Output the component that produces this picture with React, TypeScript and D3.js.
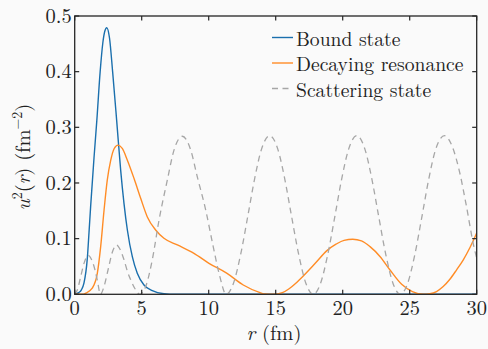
import React from "react";
import * as d3 from "d3";

type Pt = [number, number];

const boundState: Pt[] = [
  [0, 0], [0.3, 0.003], [0.5, 0.008], [0.69, 0.02], [0.94, 0.064], [1.07, 0.112],
  [1.19, 0.158], [1.44, 0.245], [1.65, 0.312], [1.9, 0.4], [2.1, 0.452], [2.25, 0.473],
  [2.39, 0.479], [2.6, 0.46], [2.83, 0.4], [3.13, 0.313], [3.43, 0.223], [3.68, 0.163],
  [3.93, 0.1155], [4.3, 0.0676], [4.67, 0.0377], [5.17, 0.0167], [5.79, 0.0065],
  [6.66, 0.001], [7.5, 0], [30, 0],
];

const decayingResonance: Pt[] = [
  [0, 0], [0.57, 0], [0.82, 0.002], [1.31, 0.011], [1.69, 0.038], [1.94, 0.086],
  [2.19, 0.151], [2.43, 0.205], [2.69, 0.241], [2.95, 0.262], [3.23, 0.268], [3.55, 0.262],
  [3.93, 0.241], [4.43, 0.208], [4.93, 0.172], [5.42, 0.139], [6.04, 0.1155], [6.66, 0.1006],
  [7.66, 0.0886], [8.9, 0.0737], [10.02, 0.0557], [11.34, 0.038], [12.58, 0.0167],
  [13.83, 0.003], [14.2, 0.0005], [14.8, 0], [15.5, 0.003], [16.0, 0.01], [16.5, 0.02],
  [17.06, 0.033], [18.0, 0.057], [18.8, 0.078], [19.5, 0.09], [20.1, 0.097], [20.75, 0.0988],
  [21.4, 0.096], [22.04, 0.0856], [22.78, 0.068], [23.53, 0.0437], [24.4, 0.018],
  [25.2, 0.005], [26.0, 0], [26.5, 0.001], [27.0, 0.005], [27.5, 0.014], [28.0, 0.027],
  [28.5, 0.044], [29.0, 0.062], [29.5, 0.084], [30, 0.11],
];

const scatteringState: Pt[] = [
  [0, 0], [0.2, 0.008], [0.45, 0.032], [0.7, 0.056], [1.0, 0.07], [1.3, 0.06], [1.5, 0.045],
  [1.69, 0.025], [1.92, 0],
  [2.2, 0.015], [2.5, 0.045], [2.8, 0.075], [3.13, 0.0886], [3.4, 0.08], [3.68, 0.062],
  [3.95, 0.04], [4.18, 0.026], [4.5, 0.01], [4.85, 0],
  [5.3, 0.014], [5.79, 0.062], [6.29, 0.133], [6.91, 0.205], [7.41, 0.259], [8.03, 0.284],
  [8.66, 0.259], [9.15, 0.211], [9.78, 0.151], [10.3, 0.09], [10.8, 0.035], [11.3, 0],
  [11.85, 0.02], [12.38, 0.071], [12.93, 0.142], [13.43, 0.208], [13.92, 0.259], [14.55, 0.285],
  [15.18, 0.259], [15.67, 0.208], [16.17, 0.142], [16.72, 0.071], [17.25, 0.02], [17.8, 0],
  [18.35, 0.02], [18.88, 0.071], [19.43, 0.142], [19.93, 0.208], [20.42, 0.259], [21.05, 0.285],
  [21.68, 0.259], [22.17, 0.208], [22.67, 0.142], [23.22, 0.071], [23.75, 0.02], [24.3, 0],
  [24.85, 0.02], [25.38, 0.071], [25.93, 0.142], [26.43, 0.208], [26.92, 0.259], [27.6, 0.285],
  [28.23, 0.262], [28.72, 0.22], [29.22, 0.16], [29.77, 0.088], [30, 0.065],
];

const xTicks = [0, 5, 10, 15, 20, 25, 30];
const yTicks = [0, 0.1, 0.2, 0.3, 0.4, 0.5];
const seriesNames = ["Bound state", "Decaying resonance", "Scattering state"];
const seriesColors = ["#1a6fad", "#ff8c26", "#a6a6a6"];

export default function App() {
  const W = 488, H = 349;
  const left = 74.7, right = 476.7, top = 16, bottom = 294.3;
  const x = d3.scaleLinear().domain([0, 30]).range([left, right]);
  const y = d3.scaleLinear().domain([0, 0.5]).range([bottom, top]);
  const line = d3
    .line<Pt>()
    .x((d) => x(d[0]))
    .y((d) => y(d[1]))
    .curve(d3.curveMonotoneX);
  const tstyle: React.CSSProperties = { fontFamily: "Latin Modern Roman" };
  const axisColor = "#262626";
  const tickLen = 4.5;
  const series = [boundState, decayingResonance, scatteringState];
  const fs = 20.5;
  const legendFs = 19.6;

  return (
    <div style={{ position: "absolute", left: 0, top: 0 }}>
      <svg width={W} height={H} style={{ display: "block" }}>
        <rect x={0} y={0} width={W} height={H} fill="#fafafa" />
        <defs>
          <clipPath id="plotclip">
            <rect x={left} y={top} width={right - left} height={bottom - top} />
          </clipPath>
        </defs>
        <g clipPath="url(#plotclip)">
          {series.map((s, i) => (
            <path
              key={i}
              d={line(s) || ""}
              fill="none"
              stroke={seriesColors[i]}
              strokeWidth={i === 2 ? 1.3 : 1.4}
              strokeDasharray={i === 2 ? "6,4.5" : undefined}
            />
          ))}
        </g>
        <rect
          x={left}
          y={top}
          width={right - left}
          height={bottom - top}
          fill="none"
          stroke={axisColor}
          strokeWidth={1.3}
        />
        {xTicks.map((t) => (
          <g key={"x" + t}>
            <line x1={x(t)} x2={x(t)} y1={bottom} y2={bottom - tickLen} stroke={axisColor} strokeWidth={1.2} />
            <line x1={x(t)} x2={x(t)} y1={top} y2={top + tickLen} stroke={axisColor} strokeWidth={1.2} />
            <text x={x(t)} y={315} textAnchor="middle" fontSize={fs} fill="#222" style={tstyle}>
              {String(t)}
            </text>
          </g>
        ))}
        {yTicks.map((t) => (
          <g key={"y" + t}>
            <line x1={left} x2={left + tickLen} y1={y(t)} y2={y(t)} stroke={axisColor} strokeWidth={1.2} />
            <line x1={right} x2={right - tickLen} y1={y(t)} y2={y(t)} stroke={axisColor} strokeWidth={1.2} />
            <text x={left - 3} y={y(t) + 6.8} textAnchor="end" fontSize={fs} fill="#222" style={tstyle}>
              {t.toFixed(1)}
            </text>
          </g>
        ))}
        <text x={274} y={340} textAnchor="middle" fontSize={fs} fill="#222" style={tstyle}>
          <tspan fontStyle="italic">r</tspan>
          <tspan> (fm)</tspan>
        </text>
        <text
          transform={`translate(30,157) rotate(-90)`}
          textAnchor="middle"
          fontSize={fs}
          fill="#222"
          style={tstyle}
        >
          <tspan fontStyle="italic">u</tspan>
          <tspan fontSize={14} dy={-8}>2</tspan>
          <tspan dy={8}>(</tspan>
          <tspan fontStyle="italic">r</tspan>
          <tspan>) (fm</tspan>
          <tspan fontSize={14} dy={-8}>−2</tspan>
          <tspan dy={8}>)</tspan>
        </text>
        {seriesNames.map((n, i) => {
          const ly = 37.5 + i * 25.5;
          return (
            <g key={n}>
              <line
                x1={272}
                x2={293}
                y1={ly}
                y2={ly}
                stroke={seriesColors[i]}
                strokeWidth={1.4}
                strokeDasharray={i === 2 ? "6,4.5" : undefined}
              />
              <text x={296} y={ly + 8.2} fontSize={legendFs} fill="#222" style={tstyle}>
                {n}
              </text>
            </g>
          );
        })}
      </svg>
    </div>
  );
}
